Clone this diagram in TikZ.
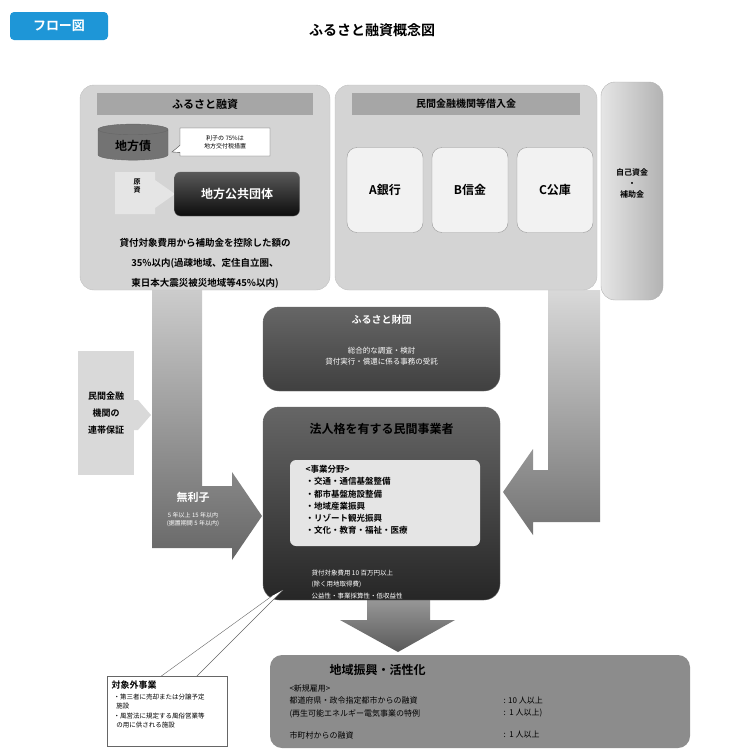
\documentclass[tikz,border=0pt]{standalone}
\usepackage{fontspec}
\setmainfont{Noto Sans CJK JP}
\newfontfamily\jpb{Noto Sans CJK JP Bold}
\usetikzlibrary{shapes.geometric,shapes.callouts}
\begin{document}
\begin{tikzpicture}[x=1pt,y=-1pt,
  panel/.style={draw=black!25,fill=black!17,rounded corners=14pt},
  hbar/.style={fill=black!35,draw=none},
  bank/.style={draw=black!40,fill=black!5,rounded corners=10pt,minimum width=76pt,minimum height=85pt,font=\jpb\fontsize{12}{14}\selectfont},
  darkbox/.style={draw=black!60,rounded corners=16pt},
  wt/.style={text=white},
  band/.style={draw=none}]
\useasboundingbox (0,0) rectangle (730,753);
% badge and title
\node[fill={rgb,255:red,30;green,150;blue,215},rounded corners=4pt,minimum width=98pt,minimum height=28pt,text=white,font=\jpb\fontsize{13}{15}\selectfont] (badge) at (59,26) {フロー図};
\node[font=\jpb\fontsize{14}{16}\selectfont] (title) at (372,30) {ふるさと融資概念図};
% big arrows (behind)
\shade[top color=black!20,bottom color=black!60] (152,290) -- (202,290) -- (202,486) -- (232,486) -- (232,472) -- (262,516) -- (232,560) -- (232,548) -- (152,548) -- cycle;
\shade[top color=black!15,bottom color=black!55] (548,290) -- (600,290) -- (600,522) -- (533,522) -- (533,535) -- (503,492) -- (533,449) -- (533,470) -- (548,470) -- cycle;
\shade[top color=black!40,bottom color=black!65] (367,598) -- (430,598) -- (430,620) -- (455,620) -- (398,652) -- (340,620) -- (367,620) -- cycle;
% left panel
\node[panel,minimum width=250pt,minimum height=205pt] (furu) at (205,187.5) {};
\node[hbar,minimum width=216pt,minimum height=22pt,font=\jpb\fontsize{11}{12}\selectfont] (furuh) at (205,104) {ふるさと融資};
\node[cylinder,shape border rotate=90,aspect=0.25,fill=black!55,draw=black!60,minimum width=70pt,minimum height=36pt,font=\jpb\fontsize{12}{13}\selectfont] (chihosai) at (133,146) {地方債};
\node[rectangle callout,draw=black!70,fill=white,callout absolute pointer={(172,152)},minimum width=90pt,minimum height=28pt,align=center,font=\fontsize{6}{8}\selectfont] (risi) at (225,142) {利子の 75\%は\\地方交付税措置};
\fill[black!10] (115,172) -- (155,172) -- (155,180) -- (175,194) -- (155,208) -- (155,214) -- (115,214) -- cycle;
\node[font=\jpb\fontsize{7}{8}\selectfont,align=center] (genshi) at (137,186) {原\\資};
\node[darkbox,rounded corners=6pt,top color=black!65,bottom color=black!95,minimum width=125pt,minimum height=44pt,wt,font=\jpb\fontsize{12}{13}\selectfont] (kokyo) at (237,194) {地方公共団体};
\node[align=center,font=\jpb\fontsize{9.5}{20}\selectfont] (cond) at (205,263) {貸付対象費用から補助金を控除した額の\\35\%以内(過疎地域、定住自立圏、\\東日本大震災被災地域等45\%以内)};
% right panel
\node[panel,minimum width=262pt,minimum height=205pt] (minkan) at (466,187.5) {};
\node[hbar,minimum width=228pt,minimum height=22pt,font=\jpb\fontsize{10}{12}\selectfont] (minkanh) at (466,104) {民間金融機関等借入金};
\node[bank] (a) at (385,190) {A銀行};
\node[bank] (b) at (470,190) {B信金};
\node[bank] (c) at (555,190) {C公庫};
\node[draw=black!30,rounded corners=14pt,left color=black!10,right color=black!30,minimum width=62pt,minimum height=218pt] (jiko) at (632,191) {};
\node[align=center,font=\jpb\fontsize{8}{11}\selectfont] (jikot) at (632,183) {自己資金\\・\\補助金};
% hosyo
\node[fill=black!15,minimum width=56pt,minimum height=124pt,align=center,font=\jpb\fontsize{9}{17}\selectfont] (hosyo) at (106,413) {民間金融\\機関の\\連帯保証};
\fill[black!15] (134,400) -- (138,400) -- (151,415) -- (138,430) -- (134,430) -- cycle;
% mu-rishi text
\node[wt,font=\jpb\fontsize{11}{13}\selectfont] (murishi) at (193,497) {無利子};
\node[wt,align=center,font=\fontsize{6}{8}\selectfont] (kikan) at (193,520) {5 年以上 15 年以内\\(据置期間 5 年以内)};
% zaidan
\node[darkbox,top color=black!60,bottom color=black!75,minimum width=237pt,minimum height=84pt] (zaidan) at (381.5,349) {};
\node[wt,font=\jpb\fontsize{10}{12}\selectfont] (zaidant) at (381.5,320) {ふるさと財団};
\node[wt,align=center,font=\fontsize{7.5}{11}\selectfont] (zaidanb) at (381.5,356) {総合的な調査・検討\\貸付実行・償還に係る事務の受託};
% jigyosha
\node[darkbox,top color=black!60,bottom color=black!85,minimum width=237pt,minimum height=193pt] (jig) at (381.5,503.5) {};
\node[font=\jpb\fontsize{12}{13}\selectfont] (jigt) at (381.5,429) {法人格を有する民間事業者};
\node[fill=black!10,rounded corners=6pt,minimum width=190pt,minimum height=86pt] (inner) at (385,503) {};
\node[anchor=north west,align=left,font=\jpb\fontsize{8.5}{12.2}\selectfont] (bunya) at (302,462) {<事業分野>\\・交通・通信基盤整備\\・都市基盤施設整備\\・地域産業振興\\・リゾート観光振興\\・文化・教育・福祉・医療};
\node[anchor=north west,wt,align=left,font=\fontsize{6.5}{11.5}\selectfont] (kashi) at (308,566) {貸付対象費用 10 百万円以上\\(除く用地取得費)\\公益性・事業採算性・低収益性};
% chiiki
\node[fill=black!45,rounded corners=12pt,minimum width=420pt,minimum height=93pt] (chiiki) at (480,701.5) {};
\node[anchor=west,font=\jpb\fontsize{12}{13}\selectfont] (chiikit) at (326,670) {地域振興・活性化};
\node[anchor=north west,align=left,font=\fontsize{8}{12.5}\selectfont] (koyo) at (286,681) {<新規雇用>\\都道府県・政令指定都市からの融資\\(再生可能エネルギー電気事業の特例};
\node[anchor=north west,align=left,font=\fontsize{8}{12.5}\selectfont] (ninzu) at (500,693) {: 10 人以上\\:\ \ 1 人以上)};
\node[anchor=west,font=\fontsize{8}{10}\selectfont] (shichoson) at (286,735) {市町村からの融資};
\node[anchor=west,font=\fontsize{8}{10}\selectfont] (ninzu2) at (500,735) {:\ \ 1 人以上};
% taishogai callout
\coordinate (tip1) at (272,596);
\coordinate (tip2) at (283,590);
\fill[white] (160,677) -- (tip1) -- (tip2) -- (196,677) -- cycle;
\draw[black!60] (160,677) -- (tip1);
\draw[black!60] (tip2) -- (196,677);
\node[draw=black!60,fill=white,minimum width=120pt,minimum height=70pt] (gai) at (167,711) {};
\node[anchor=north west,font=\jpb\fontsize{9}{11}\selectfont] (gait) at (108,677) {対象外事業};
\node[anchor=north west,align=left,font=\fontsize{6.5}{9.5}\selectfont] (gaib) at (110,690) {・第三者に売却または分譲予定\\\ \ 施設\\・風営法に規定する風俗営業等\\\ \ の用に供される施設};
\end{tikzpicture}
\end{document}
